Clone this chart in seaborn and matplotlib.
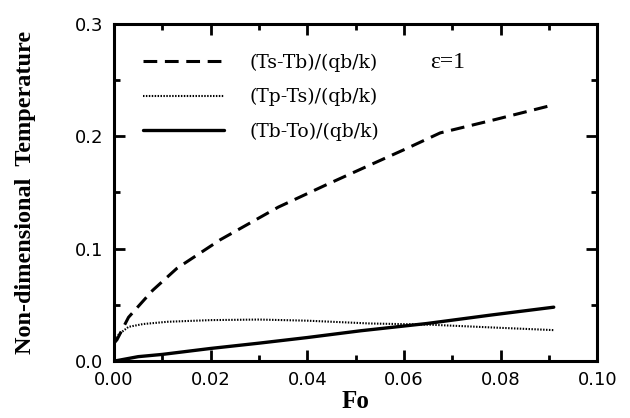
import matplotlib
matplotlib.use("Agg")
import matplotlib.pyplot as plt
import seaborn as sns
import pandas as pd
from matplotlib.ticker import MultipleLocator, FormatStrFormatter

# ---- data ----
ts_tb_fo = [0.0, 0.0006, 0.003, 0.008, 0.013, 0.022, 0.034, 0.044, 0.053, 0.0605, 0.0675, 0.079, 0.091]
ts_tb = [0.016, 0.019, 0.039, 0.063, 0.0825, 0.108, 0.137, 0.157, 0.1745, 0.189, 0.203, 0.215, 0.228]

tp_ts_fo = [0.0, 0.001, 0.003, 0.006, 0.011, 0.020, 0.030, 0.040, 0.053, 0.065, 0.078, 0.091]
tp_ts = [0.016, 0.024, 0.0305, 0.033, 0.035, 0.0365, 0.037, 0.036, 0.0335, 0.0325, 0.030, 0.0276]

tb_to_fo = [0.0, 0.005, 0.010, 0.020, 0.030, 0.040, 0.051, 0.0648, 0.078, 0.091]
tb_to = [0.0, 0.004, 0.006, 0.0113, 0.016, 0.021, 0.027, 0.0335, 0.041, 0.048]

labels = ["(Ts-Tb)/(qb/k)", "(Tp-Ts)/(qb/k)", "(Tb-To)/(qb/k)"]
x_ticks = [0.00, 0.02, 0.04, 0.06, 0.08, 0.10]
y_ticks = [0.0, 0.1, 0.2, 0.3]

df = pd.concat([
    pd.DataFrame({"Fo": ts_tb_fo, "T": ts_tb, "series": labels[0]}),
    pd.DataFrame({"Fo": tp_ts_fo, "T": tp_ts, "series": labels[1]}),
    pd.DataFrame({"Fo": tb_to_fo, "T": tb_to, "series": labels[2]}),
], ignore_index=True)

sns.set_style("ticks")
plt.rcParams["font.family"] = ["DejaVu Sans"]
plt.rcParams["text.color"] = "black"
plt.rcParams["axes.labelcolor"] = "black"
plt.rcParams["xtick.color"] = "black"
plt.rcParams["ytick.color"] = "black"

fig = plt.figure(figsize=(6.3, 4.18), dpi=100)
ax = fig.add_axes([0.181, 0.136, 0.767, 0.807])

styles = {
    labels[0]: dict(ls=(0, (4.5, 2.5)), lw=2.2),
    labels[1]: dict(ls=(0, (0.7, 0.7)), lw=1.5),
    labels[2]: dict(ls="-", lw=2.4),
}
for lab in labels:
    sub = df[df["series"] == lab]
    sns.lineplot(data=sub, x="Fo", y="T", ax=ax, color="black",
                 linestyle=styles[lab]["ls"], linewidth=styles[lab]["lw"],
                 label=lab, estimator=None, sort=False)

ax.set_xlim(0, 0.10)
ax.set_ylim(0, 0.3)
ax.set_xticks(x_ticks)
ax.set_yticks(y_ticks)
ax.xaxis.set_minor_locator(MultipleLocator(0.01))
ax.yaxis.set_minor_locator(MultipleLocator(0.05))
ax.xaxis.set_major_formatter(FormatStrFormatter("%.2f"))
ax.yaxis.set_major_formatter(FormatStrFormatter("%.1f"))
ax.tick_params(which="both", direction="in", top=True, right=True, color="black",
               labelcolor="black", width=2)
ax.tick_params(which="major", length=8, labelsize=13, pad=8)
ax.tick_params(axis="x", which="major", pad=7)
ax.tick_params(which="minor", length=4)
for s in ax.spines.values():
    s.set_linewidth(2.2)
    s.set_color("black")

ax.set_xlabel("Fo", fontsize=18, fontweight="bold", family=["Liberation Serif"],
              labelpad=1, color="black")
ax.set_ylabel("Non-dimensional  Temperature", fontsize=17.5, fontweight="bold",
              family=["Liberation Serif"], labelpad=28, color="black")

leg = ax.legend(loc="upper left", bbox_to_anchor=(0.06, 0.912), frameon=False,
                handlelength=4.3, handletextpad=1.4, labelspacing=0.86,
                borderpad=0, borderaxespad=0,
                prop={"family": "DejaVu Serif", "size": 13.5})
for t in leg.get_texts():
    t.set_color("black")
ax.text(0.655, 0.885, "ε=1", transform=ax.transAxes, fontsize=17,
        family=["Liberation Serif"], va="center", ha="left", color="black")

fig.savefig("out.png", dpi=100)
